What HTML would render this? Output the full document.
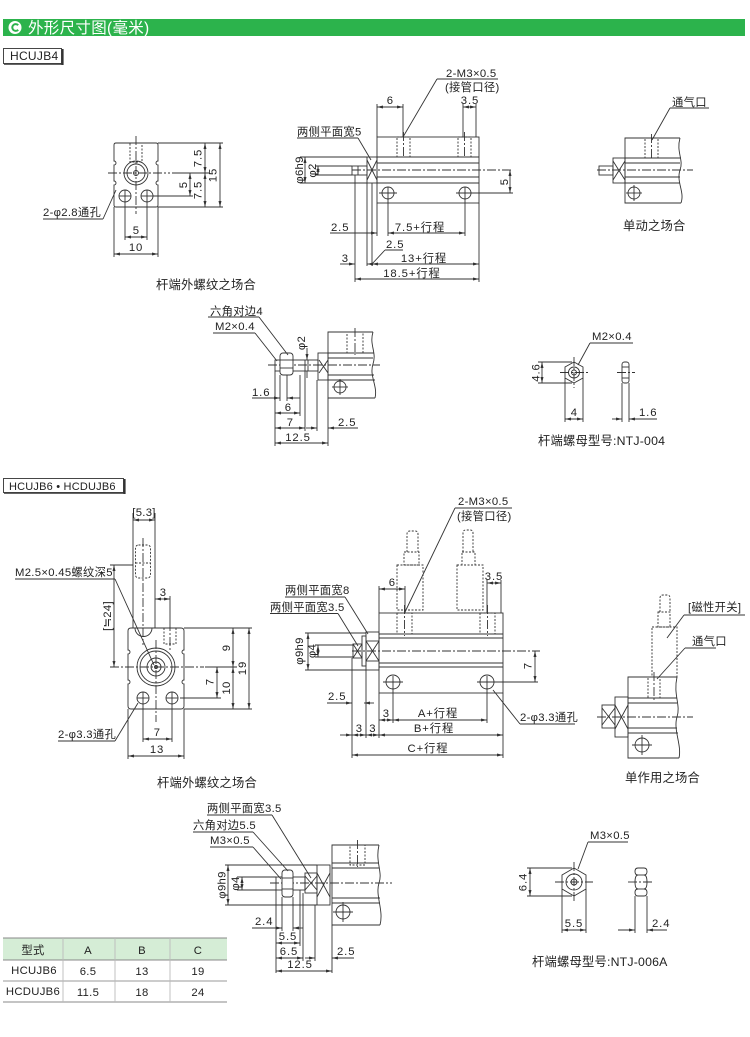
<!DOCTYPE html>
<html><head><meta charset="utf-8">
<style>
html,body{margin:0;padding:0;background:#fff;}
svg{display:block}
.g line,.g path,.g rect,.g circle,.g polygon,.g polyline{stroke:#333;stroke-width:0.9;fill:none}
.g .d{stroke-dasharray:2 1.5}
.g .c{stroke-dasharray:9 2 2 2}
.g .k{marker-start:url(#a);marker-end:url(#a)}
.g .e{marker-end:url(#a)}
text{font-family:"Liberation Sans","Noto Sans CJK SC",sans-serif;font-size:11.3px;fill:#222;letter-spacing:0.3px}
.m{text-anchor:middle}
.n{letter-spacing:0.9px}
.cap{font-size:12.3px;letter-spacing:0.2px}
</style></head><body>
<svg width="750" height="1037" viewBox="0 0 750 1037" xmlns="http://www.w3.org/2000/svg">
<defs>
<marker id="a" viewBox="0 0 8 4" refX="8" refY="2" markerWidth="7" markerHeight="3" orient="auto-start-reverse" markerUnits="userSpaceOnUse"><path d="M0,0L8,2L0,4z" style="fill:#333;stroke:none"/></marker>
</defs>

<!-- header -->
<rect x="3" y="19" width="742" height="17" style="fill:#2cb34c"/>
<circle cx="15" cy="27.5" r="6.5" style="fill:#fff"/>
<path d="M18.2,25.2 A3.4,3.4 0 1 0 18.2,29.8" style="stroke:#2cb34c;stroke-width:2;fill:none"/>
<text x="28" y="33" style="fill:#fff;font-size:15.5px;letter-spacing:0.3px">外形尺寸图(毫米)</text>

<g class="g">
<!-- label boxes -->
<rect x="3.5" y="48.5" width="58" height="15" style="fill:#fff"/>
<line x1="62.5" y1="49" x2="62.5" y2="65" style="stroke-width:2.2"/>
<line x1="4" y1="64.2" x2="63" y2="64.2" style="stroke-width:1.2"/>
<rect x="3.5" y="478.5" width="120" height="14" style="fill:#fff"/>
<line x1="124.5" y1="479" x2="124.5" y2="494" style="stroke-width:2.2"/>
<line x1="4" y1="493.2" x2="125" y2="493.2" style="stroke-width:1.2"/>

<!-- ===== TOP LEFT ===== -->
<path d="M116,143H156Q158,143 158,145V161A2,2 0 0 0 158,165V181A2,2 0 0 0 158,185V205Q158,207 156,207H116Q114,207 114,205V185A2,2 0 0 0 114,181V165A2,2 0 0 0 114,161V145Q114,143 116,143Z"/>
<circle cx="136" cy="173" r="12"/><circle cx="136" cy="173" r="9"/><circle cx="136" cy="173" r="2.5"/>
<rect class="d" x="130" y="143" width="12" height="19"/>
<line class="c" x1="136" y1="136" x2="136" y2="214"/>
<line class="c" x1="108" y1="173" x2="170" y2="173"/>
<line x1="172" y1="173" x2="209" y2="173"/>
<circle cx="125" cy="196" r="6"/><circle cx="147" cy="196" r="6"/>
<line x1="125" y1="190" x2="125" y2="240"/><line x1="147" y1="190" x2="147" y2="240"/>
<line x1="119" y1="196" x2="131" y2="196"/><line x1="141" y1="196" x2="153" y2="196"/>
<line x1="158" y1="143" x2="223" y2="143"/>
<line x1="158" y1="207" x2="223" y2="207"/>
<line x1="153" y1="196" x2="193" y2="196"/>
<line class="k" x1="205" y1="143" x2="205" y2="173"/>
<line class="k" x1="205" y1="173" x2="205" y2="207"/>
<line class="k" x1="220" y1="143" x2="220" y2="207"/>
<line class="k" x1="190" y1="173" x2="190" y2="196"/>
<line x1="114" y1="207" x2="114" y2="257"/><line x1="158" y1="207" x2="158" y2="257"/>
<line class="k" x1="125" y1="237" x2="147" y2="237"/>
<line class="k" x1="114" y1="254" x2="158" y2="254"/>
<line x1="43" y1="219" x2="103" y2="219"/><line x1="103" y1="219" x2="116" y2="190"/>

<!-- ===== TOP MIDDLE ===== -->
<rect x="377" y="137" width="102" height="66"/>
<line x1="377" y1="157" x2="479" y2="157"/><line x1="377" y1="163" x2="479" y2="163"/>
<line x1="377" y1="177" x2="479" y2="177"/><line x1="377" y1="183" x2="479" y2="183"/>
<line class="c" x1="352" y1="170" x2="512" y2="170"/>
<rect x="367" y="157" width="10" height="26"/>
<line x1="367" y1="160" x2="377" y2="180"/><line x1="377" y1="160" x2="367" y2="180"/>
<rect x="352" y="166" width="15" height="9"/><line x1="358" y1="166" x2="358" y2="175"/>
<rect class="d" x="397" y="137" width="13" height="20"/><rect class="d" x="458" y="137" width="13" height="20"/>
<line class="c" x1="403.5" y1="132" x2="403.5" y2="158"/><line class="c" x1="464.5" y1="132" x2="464.5" y2="158"/>
<line x1="377" y1="104" x2="377" y2="137"/><line x1="403" y1="104" x2="403" y2="137"/>
<line class="k" x1="377" y1="107" x2="403" y2="107"/>
<line x1="463" y1="104" x2="463" y2="137"/><line x1="476" y1="104" x2="476" y2="137"/>
<line class="k" x1="463" y1="107" x2="476" y2="107"/>
<line x1="437" y1="79" x2="498" y2="79"/><line x1="437" y1="79" x2="403" y2="137"/>
<circle cx="388" cy="193" r="6"/><circle cx="465" cy="193" r="6"/>
<line x1="379" y1="193" x2="397" y2="193"/><line x1="456" y1="193" x2="474" y2="193"/>
<line x1="471" y1="193" x2="513" y2="193"/>
<line class="k" x1="510" y1="170" x2="510" y2="193"/>
<line x1="300" y1="157" x2="367" y2="157"/><line x1="300" y1="183" x2="367" y2="183"/>
<line class="k" x1="305" y1="157" x2="305" y2="183"/>
<line x1="315" y1="166" x2="352" y2="166"/><line x1="315" y1="175" x2="352" y2="175"/>
<line class="k" x1="318" y1="166" x2="318" y2="175"/>
<line x1="297" y1="138" x2="358" y2="138"/><line x1="358" y1="138" x2="371" y2="160"/>
<line x1="355" y1="175" x2="355" y2="282"/>
<line x1="367" y1="183" x2="367" y2="266"/><line x1="372" y1="183" x2="372" y2="266"/>
<line x1="377" y1="203" x2="377" y2="236"/>
<line x1="388" y1="187" x2="388" y2="236"/><line x1="465" y1="187" x2="465" y2="236"/>
<line x1="479" y1="203" x2="479" y2="282"/>
<line class="e" x1="330" y1="233" x2="377" y2="233"/>
<line class="k" x1="388" y1="233" x2="465" y2="233"/>
<line x1="385" y1="250" x2="403" y2="250"/><line x1="385" y1="250" x2="372" y2="264"/>
<line class="e" x1="340" y1="264" x2="355" y2="264"/>
<line class="e" x1="380" y1="264" x2="367" y2="264"/>
<line class="k" x1="372" y1="264" x2="479" y2="264"/>
<line class="k" x1="355" y1="279" x2="479" y2="279"/>

<!-- ===== TOP RIGHT ===== -->
<path d="M680,138H625V203H681"/>
<path d="M680,138C676,152 684,160 680,170C676,182 685,192 681,203"/>
<line x1="625" y1="158" x2="681" y2="158"/><line x1="625" y1="163" x2="680" y2="163"/>
<line x1="625" y1="177" x2="680" y2="177"/><line x1="625" y1="183" x2="680" y2="183"/>
<line class="c" x1="597" y1="170" x2="693" y2="170"/>
<rect x="613" y="158" width="12" height="25"/>
<line x1="613" y1="161" x2="625" y2="180"/><line x1="625" y1="161" x2="613" y2="180"/>
<rect x="599" y="166" width="14" height="9"/>
<rect class="d" x="645" y="138" width="13" height="20"/>
<line class="c" x1="651.5" y1="134" x2="651.5" y2="160"/>
<circle cx="634" cy="193" r="6"/>
<line x1="626" y1="193" x2="642" y2="193"/><line x1="634" y1="185" x2="634" y2="201"/>
<line x1="670" y1="108" x2="709" y2="108"/><line x1="670" y1="108" x2="652" y2="140"/>

<!-- ===== MIDDLE ROW (NUT M2) ===== -->
<path d="M373,332H328V398H375"/>
<path d="M373,332C369,345 377,352 373,364C369,376 378,386 375,398"/>
<rect x="318" y="353" width="10" height="27"/>
<line x1="328" y1="353" x2="374" y2="353"/><line x1="328" y1="358" x2="373" y2="358"/>
<line x1="328" y1="375" x2="374" y2="375"/><line x1="328" y1="380" x2="375" y2="380"/>
<line x1="319" y1="360" x2="328" y2="373"/><line x1="328" y1="360" x2="319" y2="373"/>
<rect class="d" x="347" y="332" width="16" height="21"/>
<line class="c" x1="355" y1="328" x2="355" y2="355"/>
<circle cx="340" cy="387" r="6"/>
<line x1="332" y1="387" x2="348" y2="387"/><line x1="340" y1="379" x2="340" y2="395"/>
<line class="c" x1="268" y1="365" x2="380" y2="365"/>
<rect x="275" y="360" width="43" height="11"/>
<line x1="305" y1="360" x2="305" y2="371"/><line x1="308" y1="360" x2="308" y2="371"/>
<rect x="280" y="353" width="13" height="22" rx="3" style="fill:#fff"/>
<line x1="280" y1="360" x2="293" y2="360"/><line x1="280" y1="368" x2="293" y2="368"/>
<line class="e" x1="307" y1="348" x2="307" y2="360"/>
<line x1="307" y1="371" x2="307" y2="378"/>
<line x1="208" y1="317" x2="259" y2="317"/><line x1="259" y1="317" x2="288" y2="355"/>
<line x1="213" y1="333" x2="255" y2="333"/><line x1="255" y1="333" x2="277" y2="361"/>
<line x1="275" y1="371" x2="275" y2="446"/>
<line x1="280" y1="375" x2="280" y2="401"/><line x1="287" y1="375" x2="287" y2="401"/>
<line x1="300" y1="375" x2="300" y2="416"/><line x1="305" y1="371" x2="305" y2="431"/>
<line x1="317" y1="380" x2="317" y2="431"/><line x1="328" y1="398" x2="328" y2="446"/>
<line class="e" x1="252" y1="398" x2="280" y2="398"/>
<line class="e" x1="300" y1="398" x2="287" y2="398"/>
<line class="k" x1="275" y1="413" x2="300" y2="413"/>
<line class="k" x1="275" y1="428" x2="305" y2="428"/>
<line class="e" x1="306" y1="428" x2="317" y2="428"/>
<line class="e" x1="358" y1="428" x2="328" y2="428"/>
<line class="k" x1="275" y1="443" x2="328" y2="443"/>

<!-- ===== NTJ-004 ===== -->
<polygon points="574,362 583,367 583,378 574,383 565,378 565,367"/>
<circle cx="574" cy="372.5" r="5.5"/><circle cx="574" cy="372.5" r="2.5"/>
<line x1="560" y1="372.5" x2="588" y2="372.5" class="c"/>
<line x1="574" y1="357" x2="574" y2="388" class="c"/>
<line x1="590" y1="343" x2="633" y2="343"/><line x1="590" y1="343" x2="578" y2="365"/>
<line x1="538" y1="362" x2="572" y2="362"/><line x1="538" y1="383" x2="572" y2="383"/>
<line class="k" x1="542" y1="362" x2="542" y2="383"/>
<line x1="565" y1="378" x2="565" y2="422"/><line x1="583" y1="378" x2="583" y2="422"/>
<line class="k" x1="565" y1="419" x2="583" y2="419"/>
<rect x="622" y="362" width="7" height="21" rx="2.5"/>
<line x1="622" y1="367" x2="629" y2="367"/><line x1="622" y1="378" x2="629" y2="378"/>
<line class="c" x1="617" y1="372.5" x2="635" y2="372.5"/>
<line x1="622" y1="383" x2="622" y2="422"/><line x1="629" y1="383" x2="629" y2="422"/>
<line class="e" x1="612" y1="419" x2="622" y2="419"/>
<line class="e" x1="657" y1="419" x2="629" y2="419"/>

<!-- ===== HCUJB6 LEFT ===== -->
<path d="M131,628H181Q184,628 184,631V650A2,2 0 0 0 184,654V680A2,2 0 0 0 184,684V706Q184,709 181,709H131Q128,709 128,706V684A2,2 0 0 0 128,680V654A2,2 0 0 0 128,650V631Q128,628 131,628Z"/>
<line x1="133" y1="513" x2="133" y2="628"/><line x1="155" y1="513" x2="155" y2="628"/>
<line class="k" x1="133" y1="520" x2="155" y2="520"/>
<rect class="d" x="135.5" y="545" width="15" height="33" rx="3"/>
<line class="d" x1="135.5" y1="563" x2="150.5" y2="563"/>
<line class="c" x1="143" y1="538" x2="143" y2="645"/>
<path d="M135,628A8.5,8.5 0 0 0 152,628"/>
<path class="d" d="M164,628V644H176V628"/>
<line class="c" x1="170" y1="622" x2="170" y2="650"/>
<circle cx="156" cy="667" r="19"/><circle cx="156" cy="667" r="16"/>
<circle cx="156" cy="667" r="9"/><circle cx="156" cy="667" r="5"/><circle cx="156" cy="667" r="1.5"/>
<line class="c" x1="110" y1="667" x2="204" y2="667"/>
<line x1="205" y1="667" x2="237" y2="667"/>
<line class="c" x1="156" y1="640" x2="156" y2="722"/>
<circle cx="143" cy="698" r="6"/><circle cx="172" cy="698" r="6"/>
<line x1="143" y1="692" x2="143" y2="742"/><line x1="172" y1="692" x2="172" y2="742"/>
<line x1="137" y1="698" x2="149" y2="698"/><line x1="166" y1="698" x2="178" y2="698"/>
<line x1="170" y1="596" x2="170" y2="622"/>
<line class="k" x1="155" y1="599" x2="170" y2="599"/>
<line x1="110" y1="565" x2="133" y2="565"/>
<line class="k" x1="114" y1="565" x2="114" y2="667"/>
<line x1="15" y1="579" x2="115" y2="579"/><line x1="115" y1="579" x2="154" y2="665"/>
<line x1="184" y1="628" x2="252" y2="628"/><line x1="184" y1="709" x2="252" y2="709"/>
<line x1="180" y1="698" x2="221" y2="698"/>
<line class="k" x1="233" y1="628" x2="233" y2="667"/>
<line class="k" x1="233" y1="667" x2="233" y2="709"/>
<line class="k" x1="217" y1="667" x2="217" y2="698"/>
<line class="k" x1="249" y1="628" x2="249" y2="709"/>
<line x1="128" y1="709" x2="128" y2="759"/><line x1="184" y1="709" x2="184" y2="759"/>
<line class="k" x1="143" y1="739" x2="172" y2="739"/>
<line class="k" x1="128" y1="756" x2="184" y2="756"/>
<line x1="58" y1="741" x2="115" y2="741"/><line x1="115" y1="741" x2="138" y2="703"/>

<!-- ===== HCUJB6 MIDDLE ===== -->
<rect x="379" y="613" width="124" height="80"/>
<line x1="379" y1="634" x2="503" y2="634"/><line x1="379" y1="638" x2="503" y2="638"/>
<line x1="379" y1="663" x2="503" y2="663"/><line x1="379" y1="667" x2="503" y2="667"/>
<line class="c" x1="352" y1="651" x2="540" y2="651"/>
<rect class="d" x="397" y="613" width="15" height="21"/><rect class="d" x="480" y="613" width="15" height="21"/>
<line class="c" x1="404.5" y1="605" x2="404.5" y2="636"/><line class="c" x1="487.5" y1="605" x2="487.5" y2="636"/>
<rect class="d" x="397" y="565" width="26" height="45"/>
<rect class="d" x="404" y="552" width="15" height="13"/>
<path class="d" d="M407,552V534Q407,531 410,531H415Q418,531 418,534V552"/>
<rect class="d" x="457" y="565" width="26" height="45"/>
<rect class="d" x="462" y="552" width="13" height="13"/>
<path class="d" d="M463,552V533Q463,530 466,530H470Q473,530 473,533V552"/>
<rect x="366" y="632" width="13" height="38"/>
<line x1="366" y1="641" x2="379" y2="661"/><line x1="379" y1="641" x2="366" y2="661"/>
<line x1="366" y1="641" x2="379" y2="641"/><line x1="366" y1="661" x2="379" y2="661"/>
<rect x="362" y="636" width="4" height="30"/>
<rect x="353" y="644" width="9" height="14"/>
<line x1="353" y1="644" x2="362" y2="658"/><line x1="362" y1="644" x2="353" y2="658"/>
<line x1="305" y1="633" x2="366" y2="633"/><line x1="305" y1="670" x2="366" y2="670"/>
<line class="k" x1="308" y1="633" x2="308" y2="670"/>
<line x1="315" y1="645" x2="353" y2="645"/><line x1="315" y1="657" x2="353" y2="657"/>
<line class="k" x1="318" y1="645" x2="318" y2="657"/>
<line x1="285" y1="597" x2="345" y2="597"/><line x1="345" y1="597" x2="368" y2="634"/>
<line x1="270" y1="613.5" x2="338" y2="613.5"/><line x1="338" y1="613.5" x2="358" y2="646"/>
<line x1="455" y1="508" x2="512" y2="508"/><line x1="455" y1="508" x2="405" y2="612"/>
<line x1="379" y1="586" x2="379" y2="613"/><line x1="405" y1="586" x2="405" y2="613"/>
<line class="k" x1="379" y1="589" x2="405" y2="589"/>
<line x1="487" y1="580" x2="487" y2="613"/><line x1="501" y1="580" x2="501" y2="613"/>
<line class="k" x1="487" y1="583" x2="501" y2="583"/>
<circle cx="393" cy="682" r="7"/><circle cx="487" cy="682" r="7"/>
<line x1="383" y1="682" x2="403" y2="682"/><line x1="477" y1="682" x2="497" y2="682"/>
<line x1="495" y1="682" x2="538" y2="682"/>
<line class="k" x1="535" y1="651" x2="535" y2="682"/>
<line x1="520" y1="724" x2="575" y2="724"/><line x1="520" y1="724" x2="493" y2="690"/>
<line x1="352" y1="658" x2="352" y2="758"/>
<line x1="366" y1="670" x2="366" y2="738"/>
<line x1="379" y1="693" x2="379" y2="738"/>
<line x1="393" y1="676" x2="393" y2="723"/><line x1="487" y1="676" x2="487" y2="723"/>
<line x1="503" y1="693" x2="503" y2="758"/>
<line class="e" x1="327" y1="703" x2="352" y2="703"/>
<line class="e" x1="374" y1="703" x2="364" y2="703"/>
<line class="k" x1="379" y1="720" x2="393" y2="720"/>
<line class="k" x1="393" y1="720" x2="487" y2="720"/>
<line class="e" x1="340" y1="735" x2="352" y2="735"/>
<line class="k" x1="352" y1="735" x2="366" y2="735"/>
<line class="k" x1="366" y1="735" x2="379" y2="735"/>
<line class="k" x1="379" y1="735" x2="503" y2="735"/>
<line class="k" x1="352" y1="755" x2="503" y2="755"/>

<!-- ===== HCUJB6 RIGHT ===== -->
<path d="M677,677H628V758H679"/>
<path d="M677,677C673,695 681,705 677,717C673,730 682,745 679,758"/>
<line x1="628" y1="698" x2="677" y2="698"/><line x1="628" y1="703" x2="677" y2="703"/>
<line x1="628" y1="728" x2="677" y2="728"/><line x1="628" y1="733" x2="678" y2="733"/>
<line class="c" x1="597" y1="717" x2="693" y2="717"/>
<rect x="615" y="697" width="13" height="40"/>
<line x1="615" y1="705" x2="628" y2="729"/><line x1="628" y1="705" x2="615" y2="729"/>
<rect x="602" y="705" width="13" height="23"/>
<line x1="602" y1="708" x2="615" y2="725"/><line x1="615" y1="708" x2="602" y2="725"/>
<rect class="d" x="648" y="677" width="12" height="21"/>
<line class="c" x1="654" y1="672" x2="654" y2="700"/>
<rect class="d" x="652" y="627" width="25" height="50"/>
<rect class="d" x="658" y="612" width="12" height="15"/>
<path class="d" d="M660,612V598Q660,595 663,595H667Q670,595 670,598V612"/>
<circle cx="642" cy="745" r="7"/>
<line x1="632" y1="745" x2="652" y2="745"/><line x1="642" y1="735" x2="642" y2="755"/>
<line x1="684" y1="615" x2="745" y2="615"/><line x1="684" y1="615" x2="667" y2="638"/>
<line x1="685" y1="648" x2="716" y2="648"/><line x1="685" y1="648" x2="657" y2="679"/>

<!-- ===== BOTTOM M3 ===== -->
<path d="M379,845H332V925H380"/>
<path d="M379,845C375,862 383,872 379,883C375,896 384,910 380,925"/>
<line x1="332" y1="863" x2="379" y2="863"/><line x1="332" y1="868" x2="379" y2="868"/>
<line x1="332" y1="898" x2="380" y2="898"/><line x1="332" y1="903" x2="380" y2="903"/>
<line class="c" x1="270" y1="883" x2="392" y2="883"/>
<rect class="d" x="350" y="845" width="15" height="20"/>
<line class="c" x1="357.5" y1="840" x2="357.5" y2="867"/>
<circle cx="343" cy="912" r="7"/>
<line x1="333" y1="912" x2="353" y2="912"/><line x1="343" y1="902" x2="343" y2="922"/>
<rect x="317" y="865" width="13" height="40"/>
<line x1="317" y1="873" x2="330" y2="897"/><line x1="330" y1="873" x2="317" y2="897"/>
<rect x="305" y="873" width="12" height="20"/>
<line x1="305" y1="876" x2="317" y2="890"/><line x1="317" y1="876" x2="305" y2="890"/>
<rect x="276" y="877" width="29" height="13"/>
<rect x="282" y="870" width="11" height="27" rx="3" style="fill:#fff"/>
<line x1="282" y1="878" x2="293" y2="878"/><line x1="282" y1="889" x2="293" y2="889"/>
<line x1="225" y1="865" x2="317" y2="865"/><line x1="225" y1="905" x2="317" y2="905"/>
<line class="k" x1="228" y1="865" x2="228" y2="905"/>
<line x1="237" y1="877" x2="276" y2="877"/><line x1="237" y1="890" x2="276" y2="890"/>
<line class="k" x1="242" y1="877" x2="242" y2="890"/>
<line x1="207" y1="815" x2="272" y2="815"/><line x1="272" y1="815" x2="311" y2="878"/>
<line x1="193" y1="832" x2="253" y2="832"/><line x1="253" y1="832" x2="288" y2="871"/>
<line x1="210" y1="847" x2="253" y2="847"/><line x1="253" y1="847" x2="281" y2="879"/>
<line x1="276" y1="890" x2="276" y2="973"/>
<line x1="282" y1="897" x2="282" y2="931"/><line x1="293" y1="897" x2="293" y2="931"/>
<line x1="300" y1="890" x2="300" y2="946"/><line x1="303" y1="893" x2="303" y2="961"/>
<line x1="315" y1="905" x2="315" y2="961"/><line x1="332" y1="925" x2="332" y2="973"/>
<line class="e" x1="252" y1="928" x2="282" y2="928"/>
<line class="e" x1="303" y1="928" x2="293" y2="928"/>
<line class="k" x1="276" y1="943" x2="300" y2="943"/>
<line class="k" x1="276" y1="958" x2="303" y2="958"/>
<line class="e" x1="305" y1="958" x2="315" y2="958"/>
<line class="e" x1="354" y1="958" x2="332" y2="958"/>
<line class="k" x1="276" y1="971" x2="332" y2="971"/>

<!-- ===== NTJ-006A ===== -->
<polygon points="574,868 586,875 586,889 574,896 562,889 562,875"/>
<circle cx="574" cy="882" r="8"/><circle cx="574" cy="882" r="3"/>
<line class="c" x1="555" y1="882" x2="593" y2="882"/>
<line class="c" x1="574" y1="862" x2="574" y2="902"/>
<line x1="588" y1="842" x2="628" y2="842"/><line x1="588" y1="842" x2="578" y2="869"/>
<line x1="527" y1="868" x2="572" y2="868"/><line x1="527" y1="896" x2="572" y2="896"/>
<line class="k" x1="530" y1="868" x2="530" y2="896"/>
<line x1="562" y1="889" x2="562" y2="933"/><line x1="586" y1="889" x2="586" y2="933"/>
<line class="k" x1="562" y1="930" x2="586" y2="930"/>
<path d="M638,868H644Q647,868 647,871.5Q647,875 644,875Q647,875 647,882Q647,889 644,889Q647,889 647,892.5Q647,896 644,896H638Q635,896 635,892.5Q635,889 638,889Q635,889 635,882Q635,875 638,875Q635,875 635,871.5Q635,868 638,868Z"/>
<line x1="638" y1="875" x2="644" y2="875"/><line x1="638" y1="889" x2="644" y2="889"/>
<line class="c" x1="628" y1="882" x2="654" y2="882"/>
<line x1="635" y1="896" x2="635" y2="933"/><line x1="647" y1="896" x2="647" y2="933"/>
<line class="e" x1="618" y1="930" x2="635" y2="930"/>
<line class="e" x1="667" y1="930" x2="647" y2="930"/>

<!-- ===== TABLE ===== -->
<rect x="3" y="938" width="224" height="22" style="fill:#d5edd6;stroke:none"/>
<line x1="3" y1="938" x2="227" y2="938" style="stroke:#888"/>
<line x1="3" y1="960" x2="227" y2="960" style="stroke:#888"/>
<line x1="3" y1="981" x2="227" y2="981" style="stroke:#999"/>
<line x1="3" y1="1002" x2="227" y2="1002" style="stroke:#888"/>
<line x1="63" y1="938" x2="63" y2="1002" style="stroke:#bbb"/>
<line x1="115" y1="938" x2="115" y2="1002" style="stroke:#bbb"/>
<line x1="170" y1="938" x2="170" y2="1002" style="stroke:#bbb"/>
</g>

<!-- ===== TEXT ===== -->
<text x="10" y="60" style="font-size:12px">HCUJB4</text>
<text x="9" y="490" style="font-size:11px;letter-spacing:0.2px">HCUJB6 • HCDUJB6</text>

<!-- TL -->
<text class="m n" transform="rotate(-90 201.5 158)" x="201.5" y="158">7.5</text>
<text class="m n" transform="rotate(-90 201.5 190)" x="201.5" y="190">7.5</text>
<text class="m" transform="rotate(-90 187 185)" x="187" y="185">5</text>
<text class="m n" transform="rotate(-90 216.5 175)" x="216.5" y="175">15</text>
<text class="m" x="136" y="234">5</text>
<text class="m n" x="136" y="251">10</text>
<text x="43" y="216">2-φ2.8通孔</text>
<text class="cap" x="156" y="289">杆端外螺纹之场合</text>

<!-- TM -->
<text x="446" y="77">2-M3×0.5</text>
<text x="445" y="91">(接管口径)</text>
<text class="m" x="390" y="104">6</text>
<text class="m n" x="470" y="104">3.5</text>
<text x="297" y="135.5">两侧平面宽5</text>
<text class="m" transform="rotate(-90 303 170)" x="303" y="170">φ6h9</text>
<text class="m" transform="rotate(-90 316 170.5)" x="316" y="170.5">φ2</text>
<text class="m" transform="rotate(-90 508 182)" x="508" y="182">5</text>
<text class="n" x="331" y="231">2.5</text>
<text class="m n" x="420" y="231">7.5+行程</text>
<text class="n" x="386" y="248">2.5</text>
<text class="m" x="345" y="262">3</text>
<text class="m n" x="424" y="262">13+行程</text>
<text class="m n" x="412" y="277">18.5+行程</text>

<!-- TR -->
<text x="672" y="106">通气口</text>
<text class="cap" x="623" y="230">单动之场合</text>

<!-- middle row -->
<text x="210" y="315">六角对边4</text>
<text x="215" y="330">M2×0.4</text>
<text class="m" transform="rotate(-90 305 343)" x="305" y="343">φ2</text>
<text class="n" x="252" y="396">1.6</text>
<text class="m" x="288" y="411">6</text>
<text class="m" x="290" y="426">7</text>
<text class="n" x="338" y="426">2.5</text>
<text class="m n" x="298" y="441">12.5</text>

<!-- NTJ-004 -->
<text x="592" y="340">M2×0.4</text>
<text class="m n" transform="rotate(-90 539.5 372.5)" x="539.5" y="372.5">4.6</text>
<text class="m" x="574" y="416">4</text>
<text class="n" x="639" y="416">1.6</text>
<text class="cap" x="538" y="445">杆端螺母型号:NTJ-004</text>

<!-- HCUJB6 left -->
<text class="m" x="144" y="516">[5.3]</text>
<text class="m" x="163" y="596">3</text>
<text x="15" y="576">M2.5×0.45螺纹深5</text>
<text class="m" transform="rotate(-90 111 616)" x="111" y="616">[≒24]</text>
<text class="m" transform="rotate(-90 230 648)" x="230" y="648">9</text>
<text class="m" transform="rotate(-90 230 688)" x="230" y="688">10</text>
<text class="m" transform="rotate(-90 213.5 682)" x="213.5" y="682">7</text>
<text class="m n" transform="rotate(-90 246 668)" x="246" y="668">19</text>
<text class="m" x="157" y="736">7</text>
<text class="m n" x="157" y="753">13</text>
<text x="58" y="738">2-φ3.3通孔</text>
<text class="cap" x="157" y="787">杆端外螺纹之场合</text>

<!-- HCUJB6 middle -->
<text x="458" y="505">2-M3×0.5</text>
<text x="457" y="520">(接管口径)</text>
<text x="285" y="594">两侧平面宽8</text>
<text x="270" y="611">两侧平面宽3.5</text>
<text class="m" x="392" y="586">6</text>
<text class="m n" x="494" y="580">3.5</text>
<text class="m" transform="rotate(-90 303 651)" x="303" y="651">φ9h9</text>
<text class="m" transform="rotate(-90 315.5 651)" x="315.5" y="651">φ4</text>
<text class="m" transform="rotate(-90 531.5 666)" x="531.5" y="666">7</text>
<text x="520" y="721">2-φ3.3通孔</text>
<text class="n" x="328" y="700">2.5</text>
<text class="m" x="386" y="717">3</text>
<text class="m n" x="438" y="717">A+行程</text>
<text class="m" x="359" y="732">3</text>
<text class="m" x="372.5" y="732">3</text>
<text class="m n" x="434" y="732">B+行程</text>
<text class="m n" x="428" y="752">C+行程</text>

<!-- HCUJB6 right -->
<text x="688" y="611">[磁性开关]</text>
<text x="692" y="645">通气口</text>
<text class="cap" x="625" y="782">单作用之场合</text>

<!-- bottom -->
<text x="207" y="812">两侧平面宽3.5</text>
<text x="193" y="829">六角对边5.5</text>
<text x="210" y="844">M3×0.5</text>
<text class="m" transform="rotate(-90 225.5 885)" x="225.5" y="885">φ9h9</text>
<text class="m" transform="rotate(-90 239 883.5)" x="239" y="883.5">φ4</text>
<text class="n" x="255" y="925">2.4</text>
<text class="m n" x="288" y="940">5.5</text>
<text class="m n" x="289" y="955">6.5</text>
<text class="n" x="337" y="955">2.5</text>
<text class="m n" x="300" y="968">12.5</text>

<!-- NTJ-006A -->
<text x="590" y="839">M3×0.5</text>
<text class="m n" transform="rotate(-90 526.5 882)" x="526.5" y="882">6.4</text>
<text class="m n" x="574" y="927">5.5</text>
<text class="n" x="652" y="927">2.4</text>
<text class="cap" x="532" y="966">杆端螺母型号:NTJ-006A</text>

<!-- table -->
<text class="m" x="33" y="954">型式</text>
<text class="m" x="88" y="954">A</text>
<text class="m" x="142" y="954">B</text>
<text class="m" x="198" y="954">C</text>
<text class="m" x="34" y="974">HCUJB6</text>
<text class="m" x="88" y="975">6.5</text>
<text class="m" x="142" y="975">13</text>
<text class="m" x="198" y="975">19</text>
<text class="m" x="33" y="995">HCDUJB6</text>
<text class="m" x="88" y="996">11.5</text>
<text class="m" x="142" y="996">18</text>
<text class="m" x="198" y="996">24</text>
</svg>
</body></html>
